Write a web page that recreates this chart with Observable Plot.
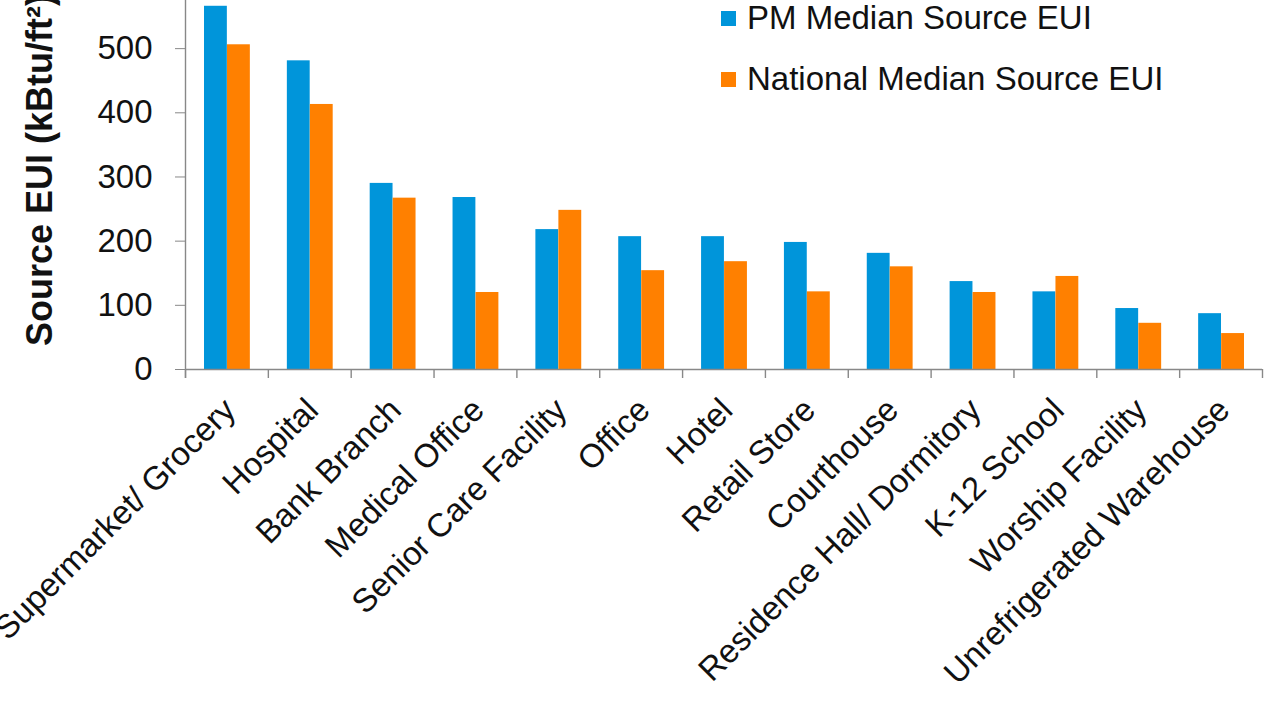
<!DOCTYPE html>
<html>
<head>
<meta charset="utf-8">
<script src="https://cdn.jsdelivr.net/npm/d3@7"></script>
<script src="https://cdn.jsdelivr.net/npm/@observablehq/plot@0.6"></script>
<style>
  html, body { margin: 0; padding: 0; background: #fff; }
  #wrap { position: relative; width: 1280px; height: 720px; overflow: hidden; font-family: "Liberation Sans", Arial, sans-serif; }
  #legend { position: absolute; left: 721px; top: 0px; font-size: 33px; color: #111; }
  .item { position: absolute; left: 0; white-space: nowrap; display: flex; align-items: center; height: 40px; line-height: 40px; }
  .sw { width: 15px; height: 15px; margin-right: 11px; display: inline-block; }
</style>
</head>
<body>
<div id="wrap"><div id="legend"></div></div>
<script>
const categories = ["Supermarket/ Grocery", "Hospital", "Bank Branch", "Medical Office", "Senior Care Facility", "Office", "Hotel", "Retail Store", "Courthouse", "Residence Hall/ Dormitory", "K-12 School", "Worship Facility", "Unrefrigerated Warehouse"];
const pmValues = [566, 481, 290, 268, 218, 207, 207, 198, 181, 137, 121, 95, 87];
const nationalValues = [506, 413, 267, 120, 248, 154, 168, 121, 160, 120, 145, 72, 56];
const seriesNames = ["PM Median Source EUI", "National Median Source EUI"];
const seriesColors = ["#0095DA", "#FF8000"];
const yTicks = [0, 100, 200, 300, 400, 500];
const yLabel = "Source EUI (kBtu/ft²)";

const pmData = categories.map((c, i) => ({category: c, value: pmValues[i]}));
const natData = categories.map((c, i) => ({category: c, value: nationalValues[i]}));

const W = 1280, H = 720, mL = 185, mR = 18, mT = 0, mB = 351;
const bw = (W - mL - mR) / categories.length;
const axisColor = "#888888";

const chart = Plot.plot({
  width: W, height: H,
  marginLeft: mL, marginRight: mR, marginTop: mT, marginBottom: mB,
  style: {fontFamily: "'Liberation Sans', Arial, sans-serif", background: "transparent", color: "#111", overflow: "hidden"},
  x: {domain: categories, paddingInner: 0, paddingOuter: 0, round: false, label: null},
  y: {domain: [0, 575], label: null},
  marks: [
    Plot.barY(pmData, {x: "category", y: "value", fill: seriesColors[0], insetLeft: 19, insetRight: 41}),
    Plot.barY(natData, {x: "category", y: "value", fill: seriesColors[1], insetLeft: 42, insetRight: 18}),
    Plot.ruleY([0], {stroke: axisColor, strokeWidth: 1.4}),
    Plot.ruleX(categories, {x: d => d, y1: 0, y2: 0, insetBottom: -9, dx: -bw / 2, stroke: axisColor, strokeWidth: 1.4}),
    Plot.ruleX([categories[categories.length - 1]], {x: d => d, y1: 0, y2: 0, insetBottom: -9, dx: bw / 2, stroke: axisColor, strokeWidth: 1.4}),
    Plot.ruleX([categories[0]], {x: d => d, insetBottom: -9, dx: -bw / 2, stroke: axisColor, strokeWidth: 1.4}),
    Plot.axisY({ticks: yTicks, tickSize: 10, tickPadding: 23, fontSize: 33, stroke: axisColor, fill: "#111", label: null}),
    Plot.axisX({tickRotate: -45, tickSize: 0, tickPadding: 35, dx: 3, fontSize: 33, label: null, fill: "#111"}),
    Plot.text([yLabel], {frameAnchor: "left", textAnchor: "middle", rotate: -90, dx: -145, dy: -15, fontSize: 36, fontWeight: "bold", fill: "#111"})
  ]
});
document.getElementById("wrap").prepend(chart);

const legend = document.getElementById("legend");
seriesNames.forEach((name, i) => {
  const item = document.createElement("div");
  item.className = "item";
  item.style.top = (-2 + i * 61) + "px";
  item.innerHTML = `<span class="sw" style="background:${seriesColors[i]}"></span><span>${name}</span>`;
  legend.appendChild(item);
});
</script>
</body>
</html>
